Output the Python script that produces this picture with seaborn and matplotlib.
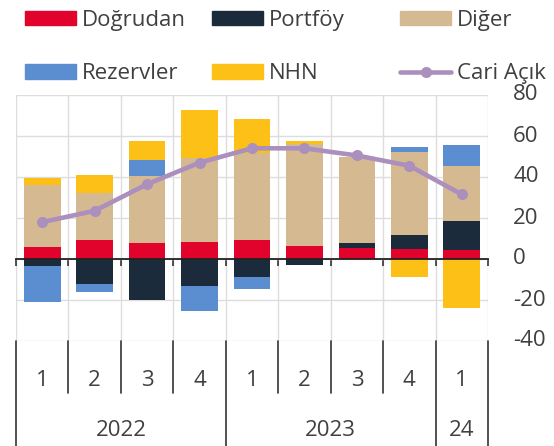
import numpy as np
import seaborn as sns
import matplotlib.pyplot as plt
import matplotlib.transforms as mtransforms
from matplotlib.patches import Patch
from matplotlib.lines import Line2D

# data
quarters = ["1", "2", "3", "4", "1", "2", "3", "4", "1"]
years = ["2022", "2023", "24"]
year_spans = [(0, 3), (4, 7), (8, 8)]
dogrudan = [6, 9.3, 8, 8.5, 9.3, 6.3, 5.2, 4.7, 4.4]
portfoy = [-3.3, -12.4, -20.1, -13, -8.7, -2.9, 2.8, 7, 14.3]
diger = [30, 22.9, 32.4, 40.8, 42.5, 50, 42, 40.7, 26.7]
rezervler = [-17.6, -3.6, 7.8, -12.4, -6, 0, 0, 2.1, 10.2]
nhn = [3.6, 8.7, 9.6, 23.2, 16.3, 1.1, 0, -8.9, -23.7]
cari_acik = [18, 23.5, 36.5, 47, 54, 54, 50.5, 45.5, 31.5]
y_ticks = [-40, -20, 0, 20, 40, 60, 80]

series = [("Doğrudan", dogrudan, "#e2032c"),
          ("Portföy", portfoy, "#1c2b3b"),
          ("Diğer", diger, "#d5b991"),
          ("Rezervler", rezervler, "#5b8dd1"),
          ("NHN", nhn, "#fcc016")]
line_color = "#ab8fbd"
text_color = "#404040"
fs = 16

sns.set_theme(style="white")
plt.rcParams['font.family'] = ['Open Sans', 'DejaVu Sans']
plt.rcParams['axes.unicode_minus'] = False

fig = plt.figure(figsize=(5.54, 4.46), dpi=100)
ax = fig.add_axes([16/554, 1 - 341/446, 472/554, 246/446])

x = np.arange(len(quarters))
pos_bottom = np.zeros(len(x))
neg_bottom = np.zeros(len(x))
for name, vals, col in series:
    v = np.array(vals, dtype=float)
    bottom = np.where(v >= 0, pos_bottom, neg_bottom)
    ax.bar(x, v, width=0.7, bottom=bottom, color=col, linewidth=0, zorder=2)
    pos_bottom += np.where(v > 0, v, 0)
    neg_bottom += np.where(v < 0, v, 0)

sns.lineplot(x=x, y=cari_acik, ax=ax, color=line_color, linewidth=3.3,
             marker="o", markersize=8, markeredgewidth=0, zorder=4)

ax.set_xlim(-0.5, len(x) - 0.5)
ax.set_ylim(-40, 80)
ax.set_yticks(y_ticks)
ax.set_yticklabels([])
ax.tick_params(axis="y", length=0, left=False, right=False)
# value labels on the right, 25px from the plot edge
yt = mtransforms.blended_transform_factory(ax.transAxes, ax.transData)
for t in y_ticks:
    ax.text(1 + 25/472, t, str(t), transform=yt, ha="left", va="center",
            fontsize=fs, color=text_color)

# zero axis with small ticks at the category boundaries
bounds = np.arange(-0.5, len(x), 1.0)
ax.set_xticks(bounds)
ax.set_xticklabels([])
ax.spines["bottom"].set_position(("data", 0))
ax.spines["bottom"].set_color("#222222")
ax.spines["bottom"].set_linewidth(1.3)
ax.spines["bottom"].set_zorder(3)
ax.tick_params(axis="x", bottom=True, direction="out", length=5, width=1.1,
               color="#222222")
for s in ["top", "left", "right"]:
    ax.spines[s].set_visible(False)
ax.grid(True, color="#dddddd", linewidth=1, zorder=0)
ax.set_axisbelow(True)

# two-level category axis below
xt = ax.get_xaxis_transform()
year_edges = [-0.5, 3.5, 7.5, 8.5]
for b in bounds:
    low = -0.427 if b in year_edges else -0.211
    ax.plot([b, b], [0, low], transform=xt, color="#333333", linewidth=1.2,
            clip_on=False)
for i, q in enumerate(quarters):
    ax.text(i, -0.16, q, transform=xt, ha="center", va="center",
            fontsize=fs, color=text_color)
for (a, b), yr in zip(year_spans, years):
    ax.text((a + b) / 2, -0.365, yr, transform=xt, ha="center", va="center",
            fontsize=fs, color=text_color)

# legend: three columns placed like the reference
handles = [Patch(color=c, label=n) for n, _, c in series]
handles.append(Line2D([], [], color=line_color, linewidth=3.3, marker="o",
                      markersize=8, markeredgewidth=0, label="Cari Açık"))
cols = [[handles[0], handles[3]], [handles[1], handles[4]], [handles[2], handles[5]]]
lefts = [25/554, 212/554, 400/554]
for hs, lx in zip(cols, lefts):
    fig.legend(handles=hs, loc="center left", bbox_to_anchor=(lx, 1 - 47/446),
               frameon=False, fontsize=fs, handlelength=2.3, handleheight=0.63,
               handletextpad=0.25, labelspacing=1.45, borderpad=0,
               borderaxespad=0, labelcolor=text_color, numpoints=1)

fig.savefig("out.png", dpi=100)
